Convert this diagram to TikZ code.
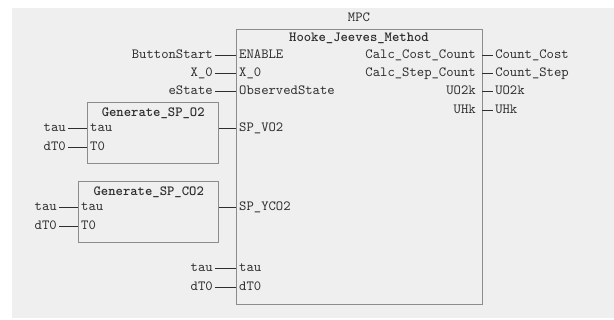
\documentclass[tikz,border=0pt]{standalone}
\usepackage{fontspec}
\definecolor{frame}{HTML}{8C8C8C}
\definecolor{txt}{HTML}{2E2E2E}
\definecolor{bg}{HTML}{EFEFEF}
\begin{document}
\begin{tikzpicture}[x=0.75pt, y=-0.75pt,
    every node/.style={font=\ttfamily\fontsize{10.5}{12}\selectfont, text=txt, text height=6.5pt, text depth=1.8pt},
    blk/.style={draw=frame, line width=1.1pt, inner sep=0pt},
    ttl/.style={font=\ttfamily\bfseries\fontsize{10.5}{12}\selectfont},
    pinl/.style={anchor=west, inner xsep=2.2pt, inner ysep=0pt},
    pinr/.style={anchor=east, inner xsep=4.5pt, inner ysep=0pt},
    sigl/.style={anchor=east, inner xsep=1.5pt, inner ysep=0pt},
    sigr/.style={anchor=west, inner xsep=1.5pt, inner ysep=0pt},
    wire/.style={draw=txt, line width=0.6pt}]
  \fill[white] (0,0) rectangle (614,320);
  \fill[bg] (12,8) rectangle (614,318);
  % main block
  \node[blk, anchor=north west, minimum width=184.5pt, minimum height=206.25pt] (mpc) at (236,29) {};
  \node (mpcname) at (359,18) {MPC};
  \node[ttl] (hjm) at (359,38) {Hooke\_Jeeves\_Method};
  \foreach \y/\pin/\sig/\n in {55/ENABLE/ButtonStart/en, 73/X\_0/X\_0/xz, 91/ObservedState/eState/os, 268/tau/tau/ta, 287/dT0/dT0/dt}
  {
    \node[pinl] (p\n) at (236,\y) {\pin};
    \node[sigl] (s\n) at (215,\y) {\sig};
    \draw[wire] (s\n.east) -- (p\n.west);
  }
  \foreach \y/\pin/\sig/\n in {55/Calc\_Cost\_Count/Count\_Cost/cc, 73/Calc\_Step\_Count/Count\_Step/cs, 91/UO2k/UO2k/uo, 110/UHk/UHk/uh}
  {
    \node[pinr] (p\n) at (482,\y) {\pin};
    \node[sigr] (s\n) at (493,\y) {\sig};
    \draw[wire] (p\n.east) -- (s\n.west);
  }
  \node[pinl] (pvo) at (236,128) {SP\_VO2};
  \node[pinl] (pyc) at (236,207) {SP\_YCO2};
  % setpoint blocks
  \node[blk, anchor=north west, minimum width=98.25pt, minimum height=45.75pt] (go2) at (87,102) {};
  \node[ttl] (go2name) at (go2.north |- 0,113) {Generate\_SP\_O2};
  \node[pinl] (go2tau) at (87,128) {tau};
  \node[pinl] (go2t0) at (87,147) {T0};
  \node[sigl] (so2tau) at (68,128) {tau};
  \node[sigl] (so2t0) at (68,147) {dT0};
  \draw[wire] (so2tau.east) -- (go2tau.west);
  \draw[wire] (so2t0.east) -- (go2t0.west);
  \draw[wire] (go2.east |- pvo.west) -- (pvo.west);
  \node[blk, anchor=north west, minimum width=105pt, minimum height=45.75pt] (gco2) at (78,181) {};
  \node[ttl] (gco2name) at (gco2.north |- 0,192) {Generate\_SP\_CO2};
  \node[pinl] (gco2tau) at (78,207) {tau};
  \node[pinl] (gco2t0) at (78,226) {T0};
  \node[sigl] (sco2tau) at (59,207) {tau};
  \node[sigl] (sco2t0) at (59,226) {dT0};
  \draw[wire] (sco2tau.east) -- (gco2tau.west);
  \draw[wire] (sco2t0.east) -- (gco2t0.west);
  \draw[wire] (gco2.east |- pyc.west) -- (pyc.west);
\end{tikzpicture}
\end{document}
